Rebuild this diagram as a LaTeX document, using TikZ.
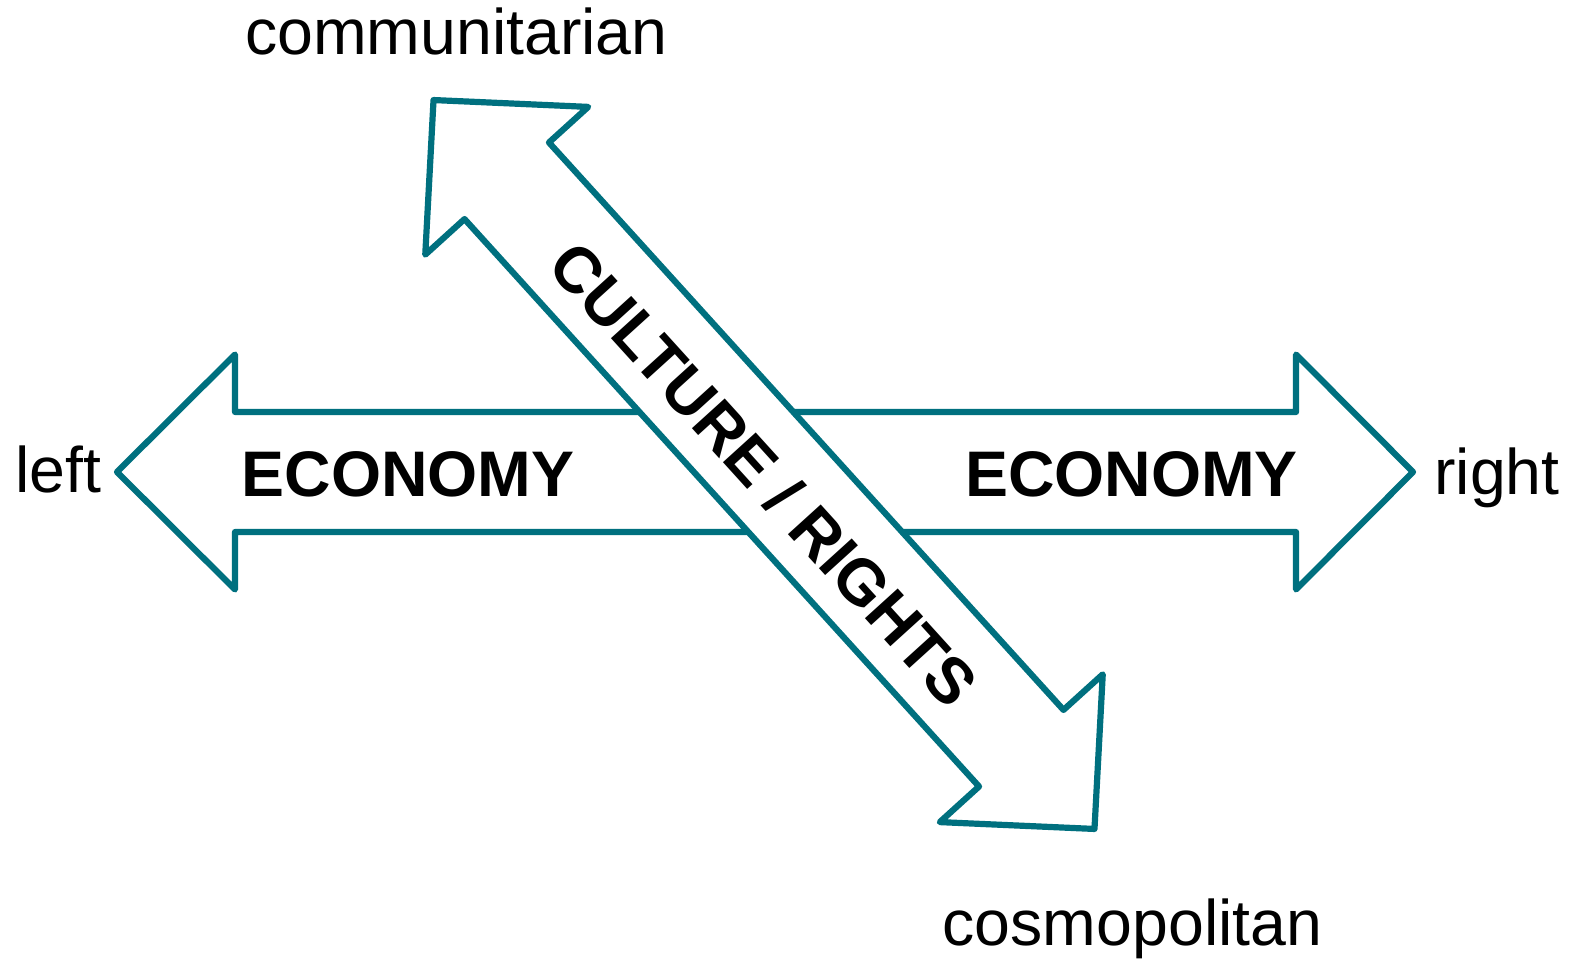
\documentclass[tikz,border=0pt]{standalone}
\usepackage{fontspec}
\setmainfont{Liberation Sans}
\definecolor{teal}{RGB}{0,112,127}
\begin{document}
\begin{tikzpicture}[x=0.5pt,y=-0.5pt,
  arrowshape/.style={draw=teal,fill=white,line width=3.1pt,line join=round},
  lbl/.style={inner sep=0pt,font=\fontsize{32.2}{39}\selectfont},
  blbl/.style={inner sep=0pt,font=\fontsize{32.2}{39}\selectfont\bfseries}]
\useasboundingbox (0,0) rectangle (1577,961);
% horizontal ECONOMY arrow
\begin{scope}[shift={(765,472)}]
\draw[arrowshape] (-648,0) -- (-530,-117.5) -- (-530,-60) -- (531,-60) -- (531,-117.5) -- (648,0)
  -- (531,117.5) -- (531,60) -- (-530,60) -- (-530,117.5) -- cycle;
\end{scope}
% diagonal CULTURE / RIGHTS arrow
\begin{scope}[shift={(764,464.5)},rotate=-47.8]
\draw[arrowshape] (-492,0) -- (-383,-110) -- (-383,-57) -- (383,-57) -- (383,-110) -- (492,0)
  -- (383,110) -- (383,57) -- (-383,57) -- (-383,110) -- cycle;
\end{scope}
\node[blbl,anchor=base] (econL) at (408,497) {ECONOMY};
\node[blbl,anchor=base] (econR) at (1131.5,497) {ECONOMY};
\node[blbl,rotate=-47.8] (culture) at (764,474) {CULTURE / RIGHTS};
\node[lbl,anchor=base] (left) at (58,493) {left};
\node[lbl,anchor=base] (right) at (1497,495) {right};
\node[lbl,anchor=base] (comm) at (456.5,55) {communitarian};
\node[lbl,anchor=base] (cosmo) at (1132.5,945) {cosmopolitan};
\end{tikzpicture}
\end{document}
